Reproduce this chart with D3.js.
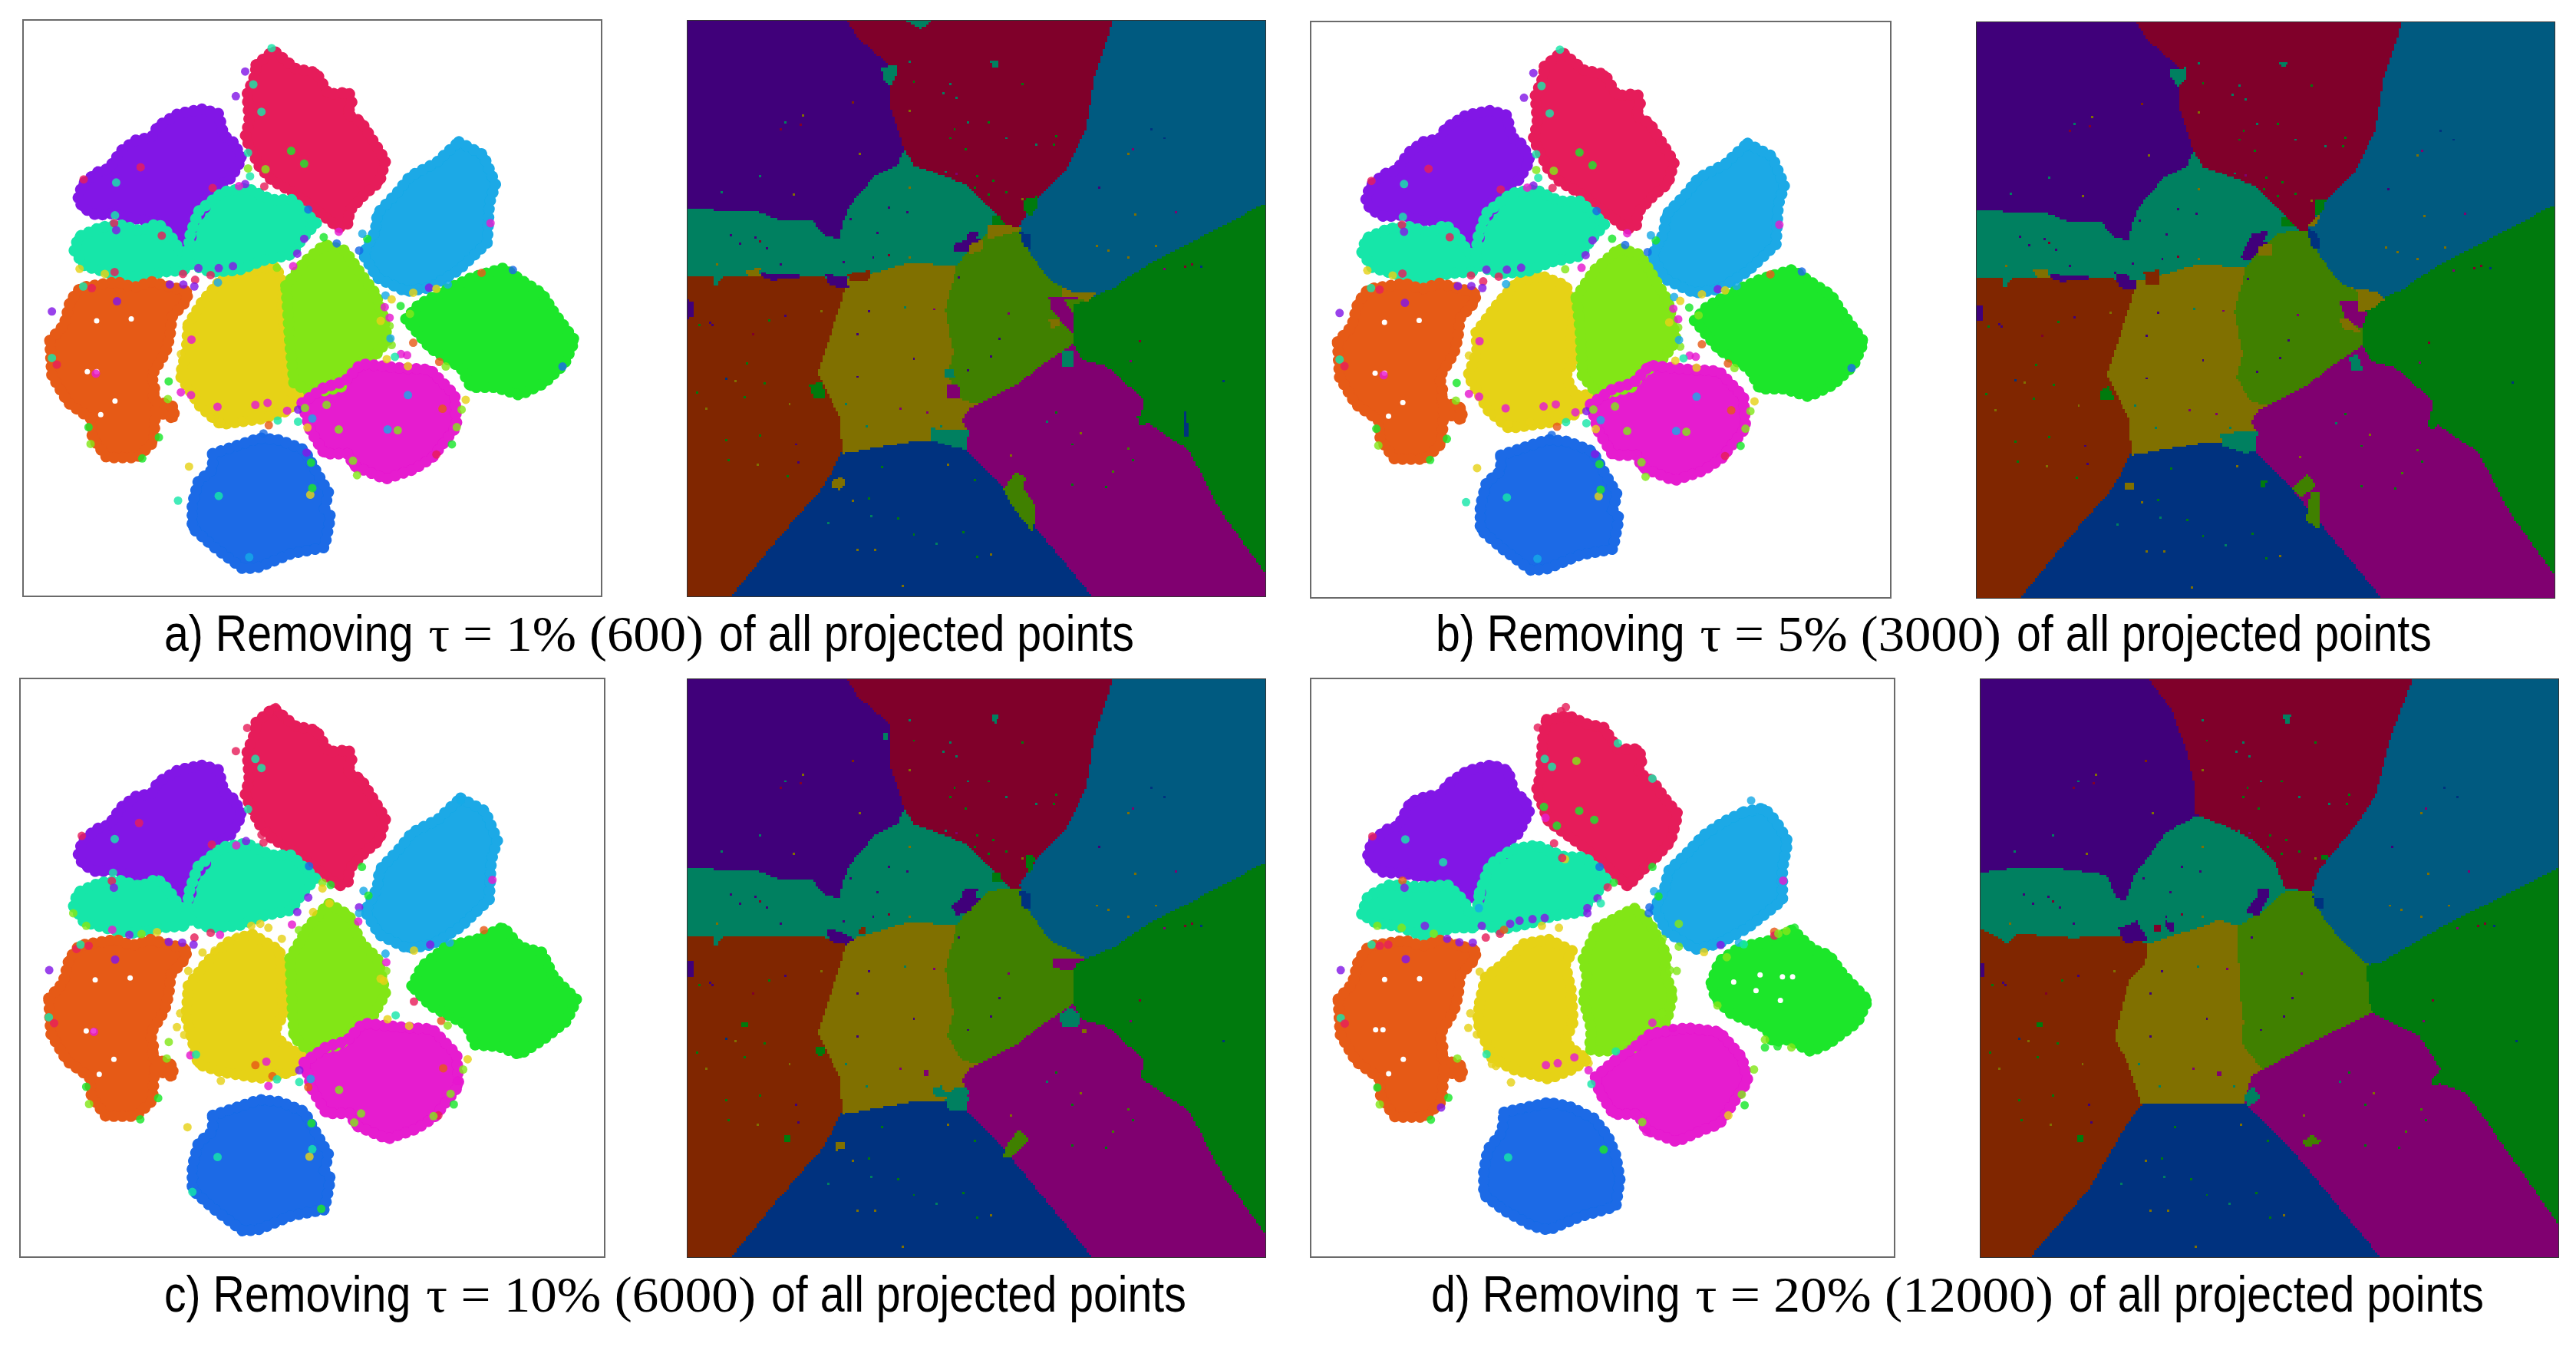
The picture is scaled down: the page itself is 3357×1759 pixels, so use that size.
<!DOCTYPE html>
<html>
<head>
<meta charset="utf-8">
<script src="https://cdn.jsdelivr.net/npm/d3@7.9.0/dist/d3.min.js"></script>
<style>
  html, body { margin: 0; background: #fff; }
  svg { display: block; }
</style>
</head>
<body>
<svg id="chart" width="3357" height="1759"></svg>
<script>
// classes: 0 violet, 1 crimson, 2 sky, 3 mint, 4 orange, 5 yellow, 6 lime, 7 green, 8 magenta, 9 blue
const classNames = ['violet', 'crimson', 'sky', 'mint', 'orange', 'yellow', 'lime', 'green', 'magenta', 'blue'];
const pointColors = ['#8219e6', '#e61e5a', '#1aa9e6', '#19e6a9', '#e65a19', '#e6d219', '#82e619', '#1ce62c', '#e61acf', '#1a6be6'];
const mapColors = ['#40007a', '#80002a', '#005a80', '#008060', '#802800', '#807000', '#408000', '#007a0a', '#800070', '#00307f'];

const clustersA = [
  [0, [[195,505],[205,470],[240,440],[270,430],[300,385],[335,358],[375,350],[390,322],[440,290],[500,278],[540,290],[552,345],[578,365],[597,405],[570,455],[530,480],[505,505],[510,525],[475,570],[470,620],[445,620],[395,570],[340,560],[280,545],[240,550],[205,530]]],
  [1, [[632,165],[675,128],[700,150],[730,175],[780,185],[810,240],[860,235],[868,265],[855,290],[890,310],[920,360],[950,410],[935,465],[900,495],[860,540],[860,570],[835,582],[790,545],[720,490],[670,460],[640,425],[605,350],[615,310],[610,240],[630,190]]],
  [2, [[1130,362],[1190,395],[1220,470],[1205,520],[1200,620],[1130,690],[1060,735],[1000,745],[930,710],[895,650],[925,590],[930,545],[980,490],[1010,450],[1075,415],[1100,390]]],
  [3, [[185,640],[195,605],[250,580],[300,575],[350,590],[390,570],[420,600],[445,640],[470,660],[460,690],[400,695],[340,710],[280,700],[210,680]]],
  [4, [[125,870],[160,830],[175,770],[200,735],[290,720],[330,735],[375,720],[465,745],[460,770],[425,810],[420,860],[410,900],[375,960],[385,1005],[375,1020],[430,1040],[430,1070],[385,1050],[380,1130],[340,1170],[265,1170],[230,1120],[225,1070],[170,1030],[130,960]]],
  [5, [[465,830],[500,770],[550,710],[620,690],[680,680],[700,730],[695,800],[710,880],[705,1000],[745,1010],[710,1050],[650,1070],[545,1085],[495,1040],[445,960],[460,900]]],
  [6, [[705,730],[750,670],[800,625],[850,640],[890,700],[925,750],[945,810],[955,870],[920,915],[880,930],[840,990],[770,1005],[725,980],[715,880],[710,800]]],
  [7, [[1000,815],[1030,780],[1100,740],[1160,710],[1240,685],[1290,720],[1335,750],[1365,800],[1415,870],[1390,930],[1340,980],[1280,1010],[1220,990],[1160,990],[1135,940],[1060,890]]],
  [8, [[745,1030],[800,990],[850,975],[890,930],[980,940],[1060,945],[1120,1010],[1125,1090],[1065,1170],[1020,1200],[950,1225],[870,1190],[860,1160],[800,1160],[765,1100]]],
  [9, [[525,1160],[640,1120],[690,1125],[750,1150],[785,1215],[810,1260],[800,1300],[815,1320],[800,1400],[720,1415],[640,1450],[600,1455],[530,1400],[475,1350],[475,1290],[490,1230],[525,1200]]],
  [3, [[470,600],[490,540],[550,490],[610,480],[670,510],[720,510],[780,570],[745,610],[720,650],[650,665],[590,690],[520,695],[460,670]]]
];
const clustersD = [
  [0, [[195,455],[205,420],[240,390],[270,380],[300,320],[340,305],[375,300],[390,275],[440,240],[500,225],[540,240],[555,295],[582,315],[592,345],[565,400],[530,430],[535,450],[500,470],[475,515],[470,570],[440,560],[395,525],[340,515],[280,500],[235,500],[205,480]]],
  [1, [[635,110],[690,100],[730,120],[775,130],[810,185],[860,185],[870,210],[860,245],[895,265],[925,310],[958,350],[940,420],[900,465],[860,505],[835,535],[790,490],[720,430],[680,400],[640,370],[610,290],[620,250],[625,160]]],
  [2, [[1120,345],[1170,335],[1200,370],[1228,420],[1215,490],[1215,570],[1130,640],[1060,680],[1000,695],[930,650],[900,590],[925,540],[935,495],[980,450],[1020,405],[1070,370]]],
  [3, [[180,605],[195,560],[250,530],[300,535],[350,535],[390,530],[430,570],[445,600],[470,620],[460,640],[400,640],[340,665],[280,640],[210,625]]],
  [4, [[122,822],[157,782],[172,722],[197,687],[287,672],[327,687],[372,672],[462,697],[457,722],[422,762],[417,812],[407,852],[372,912],[382,957],[372,972],[427,992],[427,1022],[382,1002],[377,1082],[337,1122],[262,1122],[227,1072],[222,1022],[167,982],[127,912]]],
  [5, [[470,830],[485,765],[530,730],[580,680],[640,670],[700,700],[680,730],[695,800],[700,880],[680,930],[700,950],[735,975],[700,1000],[640,1025],[550,1000],[500,970],[465,880]]],
  [6, [[725,720],[760,640],[850,590],[890,630],[930,710],[925,750],[945,810],[930,880],[880,900],[850,945],[770,955],[740,950],[745,900],[725,820],[735,770]]],
  [7, [[1040,780],[1060,725],[1110,690],[1195,670],[1240,645],[1290,695],[1330,710],[1365,760],[1425,825],[1400,880],[1330,935],[1285,955],[1230,925],[1190,930],[1175,895],[1090,860],[1050,820]]],
  [8, [[755,1020],[800,980],[850,945],[890,910],[980,895],[1060,905],[1115,970],[1130,1030],[1060,1140],[1020,1155],[955,1185],[880,1155],[860,1115],[800,1115],[765,1060]]],
  [9, [[530,1110],[640,1085],[690,1095],[750,1125],[785,1170],[805,1220],[815,1280],[805,1350],[720,1375],[640,1410],[600,1400],[530,1360],[480,1320],[480,1260],[490,1205],[525,1160]]],
  [3, [[470,550],[495,480],[550,440],[610,430],[680,460],[730,460],[785,520],[745,565],[720,600],[650,610],[590,630],[520,645],[460,625]]]
];
// b keeps a's clusters except yellow and lime
const clustersB = clustersA.map(c => c);
clustersB[5] = [5, [[465,846],[515,776],[565,716],[625,701],[685,726],[705,796],[695,876],[715,896],[685,956],[705,1006],[750,1006],[705,1056],[645,1076],[545,1091],[495,1046],[445,956],[467,896]]];
clustersB[6] = [6, [[710,756],[755,686],[815,631],[865,646],[895,696],[935,766],[955,866],[925,911],[865,956],[845,986],[765,1006],[725,956],[720,846],[715,796]]];
// c: shifted from a, with its own yellow, lime and green
const clustersC = [
  [0, clustersA[0][1].map(p => [p[0], p[1] - 30])],
  [1, clustersA[1][1].map(p => [p[0], p[1] - 26])],
  [2, clustersA[2][1].map(p => [p[0] + 5, p[1] - 30])],
  [3, clustersA[3][1].map(p => [p[0] - 2, p[1] - 33])],
  [4, clustersA[4][1].map(p => [p[0] - 3, p[1] - 28])],
  [5, [[465,810],[510,750],[560,700],[620,678],[690,720],[695,800],[700,880],[675,930],[700,960],[745,990],[720,1030],[640,1045],[550,1030],[490,1010],[460,890]]],
  [6, [[715,740],[760,660],[810,600],[860,630],[890,700],[930,740],[950,830],[920,885],[880,900],[840,960],[760,975],[725,940],[720,850]]],
  [7, [[1015,810],[1040,760],[1100,710],[1180,690],[1240,660],[1280,710],[1335,725],[1365,790],[1420,845],[1395,900],[1340,945],[1280,985],[1230,965],[1170,960],[1150,910],[1060,860]]],
  [8, clustersA[8][1].map(p => [p[0] + 5, p[1] - 25])],
  [9, clustersA[9][1].map(p => [p[0], p[1] - 20])],
  [3, clustersA[10][1].map(p => [p[0] - 2, p[1] - 33])]
];

// loose points [x, y, class]
const strayA = [[670,122,3],[605,182,0],[582,245,0],[625,215,3],[645,285,3],[612,390,3],[617,450,3],[612,430,6],[652,476,1],[655,432,6],[718,385,7],[750,418,7],[348,427,1],[208,458,1],[288,466,3],[285,550,3],[283,570,1],[288,588,0],[198,687,5],[260,700,5],[284,695,1],[207,732,3],[228,736,1],[290,770,0],[130,796,0],[400,602,1],[452,700,1],[482,715,1],[520,703,1],[453,727,0],[480,732,0],[420,727,0],[490,685,0],[540,685,0],[575,680,0],[538,722,2],[605,470,0],[590,475,8],[525,480,1],[760,535,9],[835,592,8],[905,610,7],[893,597,2],[885,640,9],[830,622,9],[798,606,7],[750,610,0],[733,648,0],[723,680,8],[683,684,6],[1208,570,8],[950,755,2],[965,765,5],[987,782,7],[948,785,8],[960,812,8],[938,820,5],[960,833,6],[965,882,6],[962,865,2],[1018,748,5],[1057,735,0],[1075,738,5],[1103,727,2],[1186,697,4],[1263,690,9],[1010,802,6],[1018,876,4],[988,905,8],[1003,908,8],[953,918,5],[973,912,3],[1005,936,5],[1082,925,4],[1098,937,6],[1147,1022,5],[1137,1047,6],[1125,1092,6],[1113,1136,7],[1075,1162,1],[870,1178,6],[880,1215,6],[756,1157,0],[767,1183,7],[467,1193,5],[440,1280,3],[352,1172,7],[393,1118,7],[225,1135,6],[220,1092,7],[417,975,7],[447,1003,8],[472,1010,8],[415,1020,6],[473,868,8],[447,905,5],[238,955,8],[130,915,3],[142,932,1],[663,1087,4],[685,1075,3],[735,1078,3],[758,1093,5],[770,1070,2],[520,1068,5],[597,1075,5],[545,1080,5],[537,1040,8],[630,1035,8],[660,1030,8],[708,1050,8],[735,1047,0],[752,1043,6],[805,1035,6],[835,1098,6],[980,1100,6],[955,1098,2],[1090,1045,4],[1005,1010,2],[615,1425,2],[540,1268,3],[765,1265,5],[770,1248,7],[650,1108,9],[1385,937,9]];
const strayC = [[680,100,1],[665,110,1],[610,153,1],[582,212,1],[630,232,3],[645,255,3],[612,360,3],[645,425,1],[655,418,1],[650,445,1],[607,441,0],[583,452,8],[523,450,1],[344,395,1],[258,402,0],[203,428,1],[284,436,3],[280,522,3],[277,543,1],[282,560,0],[182,625,6],[214,657,6],[278,667,8],[320,680,0],[350,678,6],[388,673,5],[417,698,0],[450,700,0],[480,687,1],[478,705,0],[190,716,1],[200,705,3],[220,708,1],[285,743,0],[123,770,0],[500,725,5],[530,720,5],[465,772,5],[520,675,1],[543,680,8],[585,685,5],[620,657,5],[642,652,5],[662,662,5],[695,690,5],[720,654,8],[737,668,6],[772,622,5],[812,600,5],[885,610,0],[885,625,2],[883,646,8],[733,622,0],[760,585,0],[762,505,9],[795,547,6],[815,553,7],[795,562,5],[892,507,7],[896,568,2],[908,580,7],[1213,540,8],[1135,337,2],[952,750,8],[950,728,2],[952,772,6],[938,792,5],[946,797,5],[1020,720,5],[1060,705,0],[1108,700,2],[1192,668,4],[1020,850,1],[1087,899,4],[1103,911,6],[975,885,3],[955,895,5],[1008,912,5],[1152,997,5],[1141,1023,6],[1127,1052,8],[1110,1085,6],[1118,1112,7],[1080,1140,1],[1068,1142,6],[873,1158,6],[463,1170,5],[347,1150,7],[391,1096,7],[221,1111,6],[214,1067,7],[417,953,6],[470,987,8],[484,985,3],[412,995,6],[445,880,5],[437,915,5],[455,935,5],[233,927,8],[122,890,3],[135,905,1],[545,1052,5],[662,1065,8],[672,1040,4],[683,1048,3],[738,1055,3],[760,1068,4],[766,1047,2],[738,1025,0],[630,1012,4],[657,1003,8],[836,1075,6],[890,1135,6],[1092,1020,4],[537,1246,3],[763,1245,5],[770,1226,3],[768,1160,7],[792,1378,7],[475,1335,3]];
const strayD = [[682,78,1],[670,88,1],[613,130,1],[630,210,3],[648,230,3],[628,332,7],[632,360,8],[660,380,7],[653,425,1],[680,465,5],[673,462,1],[708,215,6],[715,342,7],[752,365,7],[810,170,3],[895,260,3],[206,407,1],[287,415,3],[380,473,3],[280,520,4],[285,538,0],[195,563,3],[218,635,6],[278,640,6],[335,635,0],[357,655,6],[204,683,3],[224,686,1],[245,683,1],[288,720,0],[128,748,0],[420,677,0],[453,678,0],[390,668,0],[485,665,1],[520,655,1],[530,645,4],[545,630,0],[568,622,0],[600,618,0],[630,615,0],[623,635,5],[665,640,5],[475,635,0],[468,590,2],[735,590,0],[735,603,0],[760,565,0],[765,485,9],[800,525,7],[785,537,1],[768,578,3],[895,485,7],[899,547,2],[910,560,7],[888,588,9],[886,603,9],[1217,520,8],[1138,316,2],[920,668,6],[960,630,6],[960,688,6],[1063,684,0],[1022,702,5],[1108,678,2],[1120,682,3],[1195,650,4],[1195,660,1],[1245,640,7],[1225,648,6],[1205,655,6],[1078,715,6],[955,750,6],[938,748,6],[1055,838,6],[470,752,5],[447,858,5],[442,895,5],[463,912,5],[487,962,3],[500,987,5],[510,992,5],[547,1034,5],[633,990,8],[662,985,8],[703,970,8],[738,985,5],[738,1003,8],[745,1038,3],[415,973,6],[218,1047,7],[224,1090,6],[393,1073,7],[350,1129,7],[375,1098,0],[870,1135,6],[880,1160,8],[1145,1001,6],[1122,1092,7],[1082,1118,5],[1115,1065,6],[895,882,8],[945,895,8],[918,858,6],[805,955,3],[825,938,6],[540,1225,3],[775,1205,7],[128,870,3],[138,884,1],[1172,945,7],[1203,942,7],[1237,945,6],[1172,925,6]];

// gaps left inside the clusters [x, y]
const holesA = [[240,820],[217,950],[240,950],[285,1025],[250,1060],[325,815]];
const holesC = [[236,795],[232,925],[214,925],[282,997],[246,1035],[322,790]];
const holesD = [[236,772],[232,900],[214,900],[282,975],[246,1012],[322,770],[1095,778],[1160,760],[1210,825],[1215,765],[1240,765],[1150,800]];

// decision map regions, read off the a) map, [class, outline]
const regionsA = [
  [0, [[32,50],[440,50],[470,100],[550,165],[550,270],[580,350],[585,400],[500,470],[430,570],[420,610],[380,600],[350,560],[260,560],[210,540],[32,535]]],
  [1, [[440,50],[1118,50],[1070,200],[1050,330],[1000,430],[930,500],[890,560],[860,590],[780,510],[740,470],[660,440],[600,420],[585,380],[550,270],[550,165],[470,100]]],
  [2, [[1118,50],[1506,50],[1506,520],[1200,680],[1120,735],[1060,770],[960,720],[900,640],[880,575],[930,500],[1000,430],[1050,330],[1070,200]]],
  [7, [[1506,520],[1506,1465],[1400,1320],[1310,1150],[1190,1070],[1195,1020],[1100,935],[1040,920],[1015,880],[1015,780],[1120,735],[1200,680]]],
  [8, [[720,1060],[870,985],[940,930],[1015,880],[1040,920],[1100,935],[1195,1020],[1190,1070],[1310,1150],[1400,1320],[1506,1465],[1506,1525],[1065,1525],[840,1250],[745,1155],[750,1100]]],
  [9, [[145,1525],[270,1370],[380,1245],[420,1160],[600,1130],[740,1150],[840,1250],[1065,1525]]],
  [4, [[32,705],[130,705],[280,715],[360,705],[435,740],[410,820],[365,955],[420,1060],[430,1150],[380,1245],[270,1370],[145,1525],[32,1525]]],
  [5, [[435,740],[440,715],[600,670],[720,680],[690,790],[710,900],[695,960],[730,1020],[755,1040],[720,1095],[650,1120],[600,1130],[430,1160],[420,1060],[365,955],[410,820]]],
  [6, [[720,680],[750,640],[800,590],[880,585],[905,650],[960,730],[1015,780],[1015,880],[940,930],[870,985],[760,1030],[730,1020],[695,960],[710,900],[690,790]]],
  [3, [[32,535],[210,540],[260,560],[350,560],[380,600],[420,610],[430,570],[450,520],[510,450],[570,420],[585,380],[615,430],[660,445],[740,470],[770,520],[800,570],[780,600],[745,640],[720,680],[600,670],[500,700],[440,715],[280,700],[130,700],[105,735],[100,705],[32,705]]]
];
const regionsD = [
  [0, [[36,5],[467,5],[530,90],[565,190],[588,290],[588,350],[510,400],[430,510],[410,570],[385,565],[360,505],[240,500],[120,490],[36,500]]],
  [1, [[467,5],[1143,5],[1085,160],[1050,300],[990,390],[905,490],[870,545],[815,540],[790,470],[740,420],[650,375],[588,350],[588,290],[565,190],[530,90]]],
  [2, [[1143,5],[1516,5],[1516,490],[1230,630],[1060,730],[1030,735],[945,670],[890,590],[885,545],[905,490],[990,390],[1050,300],[1085,160]]],
  [7, [[1516,490],[1516,1395],[1400,1230],[1280,1060],[1190,1030],[1215,1000],[1160,915],[1040,855],[1030,820],[1025,735],[1060,730],[1230,630]]],
  [8, [[735,1015],[880,935],[1040,855],[1160,915],[1215,1000],[1190,1030],[1280,1060],[1400,1230],[1516,1395],[1516,1479],[1060,1479],[830,1200],[720,1095],[710,1080]]],
  [9, [[165,1479],[320,1300],[400,1160],[450,1090],[680,1090],[830,1200],[1060,1479]]],
  [4, [[36,640],[130,655],[260,665],[400,660],[465,680],[460,730],[420,770],[395,860],[380,920],[415,985],[450,1090],[400,1160],[320,1300],[165,1479],[36,1479]]],
  [5, [[465,680],[610,635],[650,620],[695,640],[700,800],[710,880],[705,935],[730,985],[760,990],[735,1015],[710,1080],[690,1090],[450,1090],[415,985],[380,920],[395,860],[420,770],[460,730]]],
  [6, [[695,630],[760,600],[800,550],[885,545],[915,620],[1025,735],[1030,850],[880,935],[760,1000],[705,935],[710,880],[700,800]]],
  [3, [[36,500],[120,490],[240,490],[360,505],[385,565],[410,570],[430,510],[510,400],[588,355],[650,375],[740,420],[815,545],[760,600],[695,635],[650,620],[610,635],[465,680],[400,660],[270,665],[130,655],[110,680],[36,640]]]
];

// small islands of another class inside a region
const patchesA = [
  [3, [[528,170],[565,165],[568,190],[550,220],[535,205]]], [3, [[585,50],[660,50],[630,72]]], [3, [[805,152],[828,152],[825,172],[810,172]]],
  [7, [[890,510],[925,500],[925,530],[905,555],[890,535]]], [7, [[808,555],[830,550],[830,572],[810,575]]], [5, [[795,575],[860,575],[880,590],[800,610]]],
  [9, [[880,590],[905,600],[910,640],[890,630]]], [0, [[710,625],[745,615],[750,590],[775,590],[770,615],[745,645],[715,645]]], [5, [[750,625],[785,615],[785,640],[755,650]]],
  [0, [[385,700],[440,710],[445,735],[420,735],[390,725]]], [0, [[220,695],[260,705],[260,720],[225,710]]], [5, [[180,690],[220,685],[215,708],[185,705]]],
  [4, [[440,700],[500,690],[500,715],[450,720]]], [0, [[32,765],[50,770],[50,810],[32,815]]], [7, [[345,985],[375,975],[385,1015],[355,1020]]],
  [5, [[400,1230],[430,1218],[438,1240],[420,1252],[400,1245]]], [6, [[840,1250],[870,1205],[895,1220],[890,1250],[920,1295],[920,1330],[910,1358],[880,1320],[860,1290]]],
  [3, [[655,1095],[720,1100],[750,1105],[745,1150],[700,1140],[655,1125]]], [8, [[955,760],[990,760],[1015,800],[1015,850],[985,820],[960,790]]], [5, [[955,815],[980,815],[985,835],[960,838]]],
  [5, [[985,730],[1020,750],[1080,745],[1055,770],[1020,760],[985,760]]], [3, [[985,900],[1015,895],[1020,940],[985,940]]], [8, [[693,980],[725,985],[730,1020],[695,1015]]],
  [3, [[690,945],[710,940],[715,965],[690,965]]], [7, [[1180,1065],[1210,1065],[1200,1088],[1185,1085]]], [9, [[1297,1055],[1305,1055],[1310,1115],[1298,1115]]]
];
const patchesB = [
  [3, [[528,175],[565,172],[568,200],[550,222],[530,200]]], [3, [[805,160],[828,160],[820,172]]], [7, [[900,510],[925,510],[915,545],[900,550]]],
  [7, [[808,555],[830,555],[830,580],[810,580]]], [5, [[880,575],[910,545],[905,565],[890,580]]], [9, [[880,580],[905,600],[910,640],[885,630]]],
  [0, [[705,660],[725,620],[740,595],[775,590],[770,610],[750,640],[735,665]]], [5, [[750,630],[785,622],[785,650],[755,655]]], [0, [[385,695],[415,700],[445,740],[395,735]]],
  [4, [[460,695],[498,688],[498,725],[465,725]]], [0, [[218,695],[260,705],[260,725],[225,712]]], [5, [[175,690],[215,690],[210,712],[185,710]]],
  [0, [[30,778],[45,778],[48,818],[30,818]]], [7, [[350,1000],[368,985],[385,1020],[350,1022]]], [5, [[410,1235],[432,1235],[432,1250],[412,1255]]],
  [6, [[840,1250],[880,1210],[900,1245],[860,1270]]], [6, [[885,1260],[910,1255],[910,1355],[875,1330]]], [3, [[655,1105],[690,1105],[715,1100],[745,1115],[745,1150],[720,1160],[660,1140]]],
  [8, [[958,765],[1000,768],[1030,800],[1015,840],[975,815]]], [5, [[958,815],[985,815],[1015,850],[970,840]]], [5, [[985,735],[1010,745],[1005,800],[1040,790],[1075,765],[1055,745]]],
  [3, [[985,915],[1005,905],[1020,945],[990,945]]], [7, [[1185,1075],[1225,1075],[1200,1095],[1185,1092]]], [7, [[755,1228],[775,1228],[770,1245],[758,1245]]]
];
const patchesC = [
  [3, [[535,165],[545,165],[545,182],[535,182]]], [3, [[808,118],[828,120],[820,142],[808,135]]], [7, [[895,475],[920,480],[910,520],[900,520]]],
  [7, [[810,525],[830,525],[830,548],[810,548]]], [9, [[880,565],[905,575],[910,618],[885,610]]], [0, [[705,605],[730,590],[740,560],[775,560],[770,580],[755,620],[720,632]]],
  [0, [[388,665],[420,670],[460,690],[440,705],[395,695]]], [4, [[470,665],[490,660],[490,680],[470,680]]], [0, [[32,745],[50,750],[50,785],[32,785]]],
  [7, [[358,965],[382,965],[380,990],[365,985]]], [5, [[410,1205],[435,1205],[435,1225],[415,1228]]], [6, [[838,1245],[850,1210],[880,1175],[905,1205],[880,1225],[860,1245]]],
  [3, [[660,1070],[685,1072],[690,1095],[665,1095]]], [3, [[690,1100],[715,1068],[755,1095],[730,1130],[700,1125]]], [8, [[965,738],[1010,740],[1025,760],[1010,770],[965,765]]],
  [3, [[980,885],[1010,865],[1038,885],[1030,915],[990,915]]], [8, [[635,1025],[650,1022],[650,1042],[635,1042]]], [5, [[1040,918],[1052,918],[1052,932],[1040,932]]],
  [7, [[280,1190],[298,1190],[298,1205],[280,1205]]], [7, [[172,900],[190,900],[190,915],[172,915]]]
];
const patchesD = [
  [3, [[812,95],[835,95],[825,120],[815,118]]], [0, [[715,600],[745,560],[750,540],[780,540],[770,570],[750,610]]], [0, [[390,640],[440,625],[465,670],[405,680]]],
  [1, [[480,635],[497,635],[497,652],[480,652]]], [0, [[510,622],[535,630],[530,650],[515,645]]], [0, [[36,730],[50,730],[50,765],[36,765]]],
  [9, [[888,560],[915,565],[915,595],[895,590]]], [3, [[712,1070],[735,1045],[757,1075],[720,1095]]], [6, [[862,1185],[885,1165],[910,1185],[870,1200]]],
  [7, [[1190,1035],[1210,1010],[1230,1030],[1200,1042]]], [7, [[285,1170],[300,1170],[300,1185],[285,1185]]], [7, [[910,452],[924,452],[924,465],[910,465]]],
  [7, [[183,880],[197,880],[197,892],[183,892]]], [8, [[645,1008],[657,1008],[657,1018],[645,1018]]]
];

// single mislabelled pixels [x, y, class], same reading frame as regionsA
const specks = [[280,312,3],[330,295,5],[325,318,1],[455,258,4],[270,330,1],[120,490,3],[470,390,5],[218,450,3],[305,495,5],[600,155,3],[608,210,7],[700,212,3],[885,212,7],[683,240,3],[718,248,3],[600,285,5],[750,312,3],[800,315,7],[712,332,7],[705,350,7],[845,350,3],[975,345,7],[745,380,7],[920,372,3],[967,372,7],[690,440,3],[720,443,8],[770,452,7],[813,462,7],[765,480,7],[802,497,7],[845,490,7],[888,507,5],[1215,328,9],[1250,355,9],[1168,380,8],[1155,395,5],[1278,545,8],[1175,548,5],[1075,630,5],[1228,630,5],[1108,640,5],[1160,655,5],[1080,480,0],[1250,685,8],[1300,680,1],[1320,678,1],[1340,680,9],[1185,872,1],[1400,972,9],[1165,925,8],[600,480,5],[595,540,0],[550,530,0],[520,595,0],[450,560,0],[205,605,0],[145,600,0],[170,625,0],[220,620,1],[235,635,0],[600,660,5],[550,652,1],[430,670,0],[505,660,0],[270,675,0],[110,675,5],[90,825,0],[65,828,7],[100,830,0],[245,822,7],[285,808,0],[200,855,1],[375,795,5],[185,930,7],[135,970,9],[155,972,5],[230,983,7],[180,1013,7],[60,1005,7],[293,1035,5],[80,1045,5],[140,1175,7],[213,1190,5],[290,1218,7],[315,1183,0],[310,1138,0],[135,1125,7],[222,1112,7],[660,790,8],[495,795,0],[590,785,3],[465,855,0],[610,918,0],[465,965,0],[645,1055,8],[575,1043,8],[440,1035,3],[680,1090,3],[490,1090,3],[725,708,0],[855,800,8],[830,865,0],[805,912,0],[750,945,0],[975,1058,7],[950,1078,3],[1035,1105,5],[1015,1138,7],[1160,1145,6],[1170,1175,7],[1120,1205,6],[1015,1240,7],[1098,1248,7],[860,1165,5],[695,1190,5],[530,1195,7],[768,1228,7],[455,1278,5],[495,1272,7],[390,1335,3],[500,1320,3],[570,1325,7],[610,1365,7],[735,1362,7],[465,1408,5],[515,1408,5],[670,1390,3],[772,1425,7],[808,1420,5],[580,1497,5]];

const captionLetters = ['a) Removing', 'b) Removing', 'c) Removing', 'd) Removing'];
const captionMath = ['\u03c4 = 1% (600)', '\u03c4 = 5% (3000)', '\u03c4 = 10% (6000)', '\u03c4 = 20% (12000)'];
const captionEnd = 'of all projected points';

// read frames of the zoomed crops -> where each frame sits on the page
const scatterPanels = [
  { box: [30, 26, 784, 777], read: [59, 50, 1481, 1525], clusters: clustersA, stray: strayA, holes: holesA },
  { box: [1708, 28, 2464, 779], read: [59, 50, 1481, 1525], clusters: clustersB, stray: strayA, holes: holesA },
  { box: [26, 884, 788, 1638], read: [51, 27, 1489, 1501], clusters: clustersC, stray: strayC, holes: holesC },
  { box: [1708, 884, 2469, 1638], read: [54, 5, 1491, 1479], clusters: clustersD, stray: strayD, holes: holesD }
];
const mapPanels = [
  { box: [895, 26, 1649, 777], read: [32, 50, 1506, 1525], regions: regionsA, patches: patchesA, patchRead: [32, 50, 1506, 1525] },
  { box: [2575, 28, 3329, 779], read: [32, 50, 1506, 1525], regions: regionsA, patches: patchesB, patchRead: [30, 54, 1510, 1528] },
  { box: [895, 884, 1649, 1638], read: [32, 50, 1506, 1525], regions: regionsA, patches: patchesC, patchRead: [32, 27, 1507, 1501] },
  { box: [2580, 884, 3334, 1638], read: [36, 5, 1516, 1479], regions: regionsD, patches: patchesD, patchRead: [36, 5, 1516, 1479] }
];
const captionBoxes = [[214, 1478, 848], [1871, 3169, 848], [214, 1546, 1709], [1865, 3237, 1709]];

const svg = d3.select('#chart');
const GRID = 256;

svg.append('defs').append('filter').attr('id', 'soft')
  .append('feGaussianBlur').attr('stdDeviation', 0.7);

function drawScatter(p) {
  const x = d3.scaleLinear().domain([p.read[0], p.read[2]]).range([p.box[0], p.box[2]]);
  const y = d3.scaleLinear().domain([p.read[1], p.read[3]]).range([p.box[1], p.box[3]]);
  const g = svg.append('g');

  g.append('rect')
    .attr('x', p.box[0]).attr('y', p.box[1])
    .attr('width', p.box[2] - p.box[0]).attr('height', p.box[3] - p.box[1])
    .attr('fill', '#fff').attr('stroke', '#6a6a6a').attr('stroke-width', 2);

  const marks = g.append('g').attr('filter', 'url(#soft)');
  const outline = d3.line().x(d => x(d[0])).y(d => y(d[1])).curve(d3.curveLinearClosed);

  // solid body, then a row of round point marks along the edge
  marks.selectAll('path.body').data(p.clusters).join('path')
    .attr('class', 'body')
    .attr('d', d => outline(d[1]))
    .attr('fill', d => pointColors[d[0]])
    .attr('stroke', d => pointColors[d[0]])
    .attr('stroke-width', 10)
    .attr('stroke-linejoin', 'round');
  marks.selectAll('path.edge').data(p.clusters).join('path')
    .attr('class', 'edge')
    .attr('d', d => outline(d[1]))
    .attr('fill', 'none')
    .attr('stroke', d => pointColors[d[0]])
    .attr('stroke-width', 15)
    .attr('stroke-linecap', 'round')
    .attr('stroke-dasharray', '0.1 11');

  marks.selectAll('circle.hole').data(p.holes).join('circle')
    .attr('class', 'hole')
    .attr('cx', d => x(d[0])).attr('cy', d => y(d[1]))
    .attr('r', 3.5).attr('fill', '#fff');

  marks.selectAll('circle.stray').data(p.stray).join('circle')
    .attr('class', 'stray')
    .attr('cx', d => x(d[0])).attr('cy', d => y(d[1]))
    .attr('r', 5.5)
    .attr('fill', d => pointColors[d[2]])
    .attr('fill-opacity', 0.82);
}

// paint regions on the coarse grid the map was computed on, merge runs per row
function rasterMap(p) {
  const cx = d3.scaleLinear().domain([p.read[0], p.read[2]]).range([0, GRID]);
  const cy = d3.scaleLinear().domain([p.read[1], p.read[3]]).range([0, GRID]);
  const px = d3.scaleLinear().domain([p.patchRead[0], p.patchRead[2]]).range([0, GRID]);
  const py = d3.scaleLinear().domain([p.patchRead[1], p.patchRead[3]]).range([0, GRID]);

  const polys = p.regions.map(r => [r[0], r[1].map(q => [cx(q[0]), cy(q[1])])])
    .concat(p.patches.map(r => [r[0], r[1].map(q => [px(q[0]), py(q[1])])]));

  const cells = d3.range(GRID).map(() => new Array(GRID).fill(4));
  for (let j = 0; j < GRID; j++) {
    for (let i = 0; i < GRID; i++) {
      let c = -1;
      for (const poly of polys) {
        if (d3.polygonContains(poly[1], [i + 0.5, j + 0.5])) c = poly[0];
      }
      cells[j][i] = c >= 0 ? c : (i > 0 ? cells[j][i - 1] : (j > 0 ? cells[j - 1][i] : 0));
    }
  }

  const sx = d3.scaleLinear().domain([32, 1506]).range([0, GRID]);
  const sy = d3.scaleLinear().domain([50, 1525]).range([0, GRID]);
  specks.forEach(s => {
    const i = Math.floor(sx(s[0])), j = Math.floor(sy(s[1]));
    if (i >= 0 && i < GRID && j >= 0 && j < GRID) cells[j][i] = s[2];
  });

  const runs = [];
  cells.forEach((row, j) => {
    let start = 0;
    for (let i = 1; i <= GRID; i++) {
      if (i === GRID || row[i] !== row[start]) {
        runs.push({ j, start, end: i, c: row[start] });
        start = i;
      }
    }
  });
  return runs;
}

function drawMap(p) {
  const gx = d3.scaleLinear().domain([0, GRID]).range([p.box[0], p.box[2]]);
  const gy = d3.scaleLinear().domain([0, GRID]).range([p.box[1], p.box[3]]);
  const g = svg.append('g').attr('shape-rendering', 'crispEdges');

  g.append('g').attr('filter', 'url(#soft)')
    .selectAll('rect').data(rasterMap(p)).join('rect')
    .attr('x', d => gx(d.start))
    .attr('y', d => gy(d.j))
    .attr('width', d => gx(d.end) - gx(d.start) + 0.5)
    .attr('height', d => gy(d.j + 1) - gy(d.j) + 0.5)
    .attr('fill', d => mapColors[d.c]);

  g.append('rect')
    .attr('x', p.box[0]).attr('y', p.box[1])
    .attr('width', p.box[2] - p.box[0]).attr('height', p.box[3] - p.box[1])
    .attr('fill', 'none').attr('stroke', '#333').attr('stroke-width', 1);
}

function captionPart(str, family, size) {
  return svg.append('text')
    .attr('font-family', family)
    .attr('font-size', size)
    .attr('fill', '#000')
    .text(str);
}

// the sans parts are condensed, the math between them is stretched to fit
function drawCaption(i) {
  const [x0, x1, base] = captionBoxes[i];
  const sans = '"Liberation Sans", Arial, sans-serif';
  const serif = '"Liberation Serif", "Times New Roman", serif';
  const gap = 20;

  const left = captionPart(captionLetters[i], sans, 66);
  const mid = captionPart(captionMath[i], serif, 66);
  const right = captionPart(captionEnd, sans, 66);

  const sx = 541 / right.node().getComputedTextLength();
  const leftW = left.node().getComputedTextLength() * sx;
  const midW = (x1 - x0) - leftW - 541 - 2 * gap;
  const midSx = midW / mid.node().getComputedTextLength();

  left.attr('transform', `translate(${x0},${base}) scale(${sx},1)`);
  mid.attr('transform', `translate(${x0 + leftW + gap},${base}) scale(${midSx},1)`);
  right.attr('transform', `translate(${x1 - 541},${base}) scale(${sx},1)`);
}

scatterPanels.forEach(drawScatter);
mapPanels.forEach(drawMap);
captionBoxes.forEach((c, i) => drawCaption(i));
</script>
</body>
</html>
